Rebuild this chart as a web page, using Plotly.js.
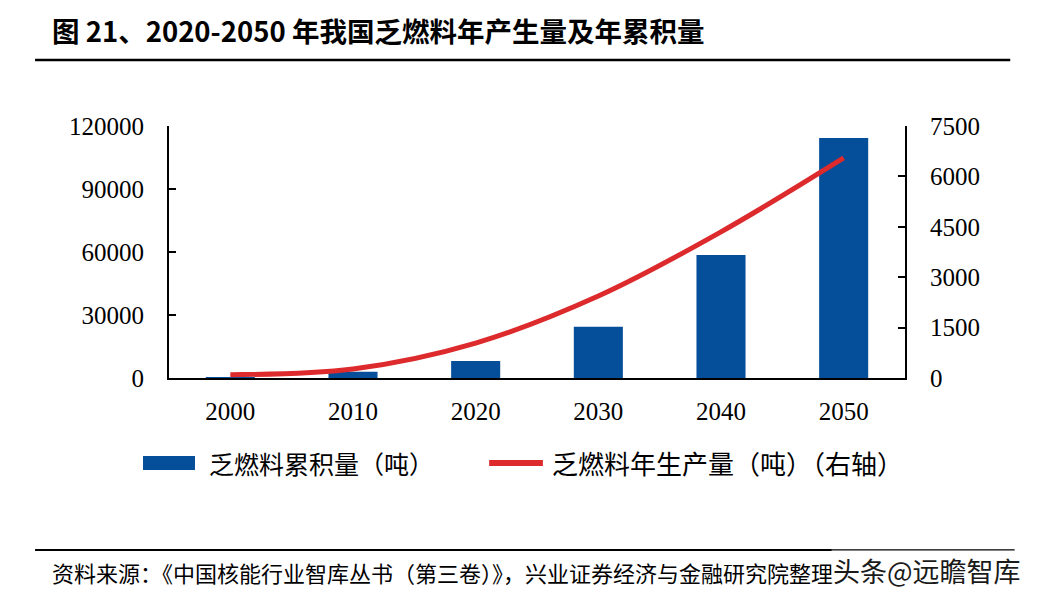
<!DOCTYPE html>
<html>
<head>
<meta charset="utf-8">
<script src="https://cdn.plot.ly/plotly-3.0.1.min.js"></script>
<style>html,body{margin:0;padding:0;background:#fff;}#chart{width:1044px;height:605px;}</style>
</head>
<body>
<div id="chart"></div>
<script>
const years = ['2000', '2010', '2020', '2030', '2040', '2050'];
const cumulative = [500, 3000, 8100, 24400, 58600, 114300];
const annual = [100, 270, 1040, 2440, 4350, 6550];
const leftTicks = [0, 30000, 60000, 90000, 120000];
const rightTicks = [0, 1500, 3000, 4500, 6000, 7500];
const barName = '乏燃料累积量（吨）';
const lineName = '乏燃料年生产量（吨）（右轴）';
const titleText = '图 21、2020-2050 年我国乏燃料年产生量及年累积量';
const sourceText = '资料来源：《中国核能行业智库丛书（第三卷）》，兴业证券经济与金融研究院整理';
const watermark = '头条@远瞻智库';

const cjk = '"Noto Sans CJK SC", "Noto Sans", sans-serif';
const serif = '"Liberation Serif", "DejaVu Serif", serif';

const traces = [
  {
    type: 'bar', x: years, y: cumulative, name: barName,
    marker: {color: '#054e9a'}, width: 0.4, yaxis: 'y', showlegend: false
  },
  {
    type: 'scatter', mode: 'lines', x: years, y: annual, name: lineName,
    line: {color: '#dc2a2d', width: 5, shape: 'spline', smoothing: 1},
    yaxis: 'y2', showlegend: false
  }
];

const layout = {
  width: 1044, height: 605,
  paper_bgcolor: '#ffffff', plot_bgcolor: '#ffffff',
  margin: {l: 169, r: 139, t: 126, b: 227},
  xaxis: {
    type: 'category', showline: true, linecolor: '#000', linewidth: 2,
    ticks: '', showgrid: false, zeroline: false,
    tickfont: {family: serif, size: 25, color: '#000'}, ticklabelstandoff: 10
  },
  yaxis: {
    range: [0, 120000], tickvals: leftTicks, ticktext: leftTicks.map(String),
    showline: true, linecolor: '#000', linewidth: 2,
    ticks: 'inside', ticklen: 7, tickwidth: 2, tickcolor: '#000',
    showgrid: false, zeroline: false,
    tickfont: {family: serif, size: 25, color: '#000'}, ticklabelstandoff: 18
  },
  yaxis2: {
    range: [0, 7500], tickvals: rightTicks, ticktext: rightTicks.map(String),
    overlaying: 'y', side: 'right',
    showline: true, linecolor: '#000', linewidth: 2,
    ticks: 'inside', ticklen: 7, tickwidth: 2, tickcolor: '#000',
    showgrid: false, zeroline: false,
    tickfont: {family: serif, size: 25, color: '#000'}, ticklabelstandoff: 18
  },
  showlegend: false,
  shapes: [
    {type: 'line', xref: 'paper', yref: 'paper', x0: -0.182, x1: 1.143, y0: 1.262, y1: 1.262,
     line: {color: '#000', width: 2.5}},
    {type: 'line', xref: 'paper', yref: 'paper', x0: -0.182, x1: 1.149, y0: -0.683, y1: -0.683,
     line: {color: '#000', width: 2}},
    {type: 'rect', xref: 'paper', yref: 'paper', x0: -0.0353, x1: 0.0353, y0: -0.365, y1: -0.31,
     fillcolor: '#054e9a', line: {width: 0}},
    {type: 'line', xref: 'paper', yref: 'paper', x0: 0.435, x1: 0.508, y0: -0.337, y1: -0.337,
     line: {color: '#dc2a2d', width: 6}}
  ],
  annotations: [
    {text: titleText, xref: 'paper', yref: 'paper', x: -0.1617, y: 1.381, xanchor: 'left', yanchor: 'middle',
     showarrow: false, font: {family: cjk, size: 27.5, color: '#000', weight: 'bold'}},
    {text: barName, xref: 'paper', yref: 'paper', x: 0.052, y: -0.337, xanchor: 'left', yanchor: 'middle',
     showarrow: false, font: {family: cjk, size: 25, color: '#000'}},
    {text: lineName, xref: 'paper', yref: 'paper', x: 0.518, y: -0.337, xanchor: 'left', yanchor: 'middle',
     showarrow: false, font: {family: cjk, size: 26, color: '#000'}},
    {text: sourceText, xref: 'paper', yref: 'paper', x: -0.1617, y: -0.77, xanchor: 'left', yanchor: 'middle',
     showarrow: false, font: {family: cjk, size: 22, color: '#000'}},
    {text: watermark, xref: 'paper', yref: 'paper', x: 1.161, y: -0.765, xanchor: 'right', yanchor: 'middle',
     showarrow: false, font: {family: cjk, size: 27, color: '#1a1a1a'}, bgcolor: 'rgba(255,255,255,0.5)'}
  ]
};

Plotly.newPlot('chart', traces, layout, {displayModeBar: false, staticPlot: true});
</script>
</body>
</html>
